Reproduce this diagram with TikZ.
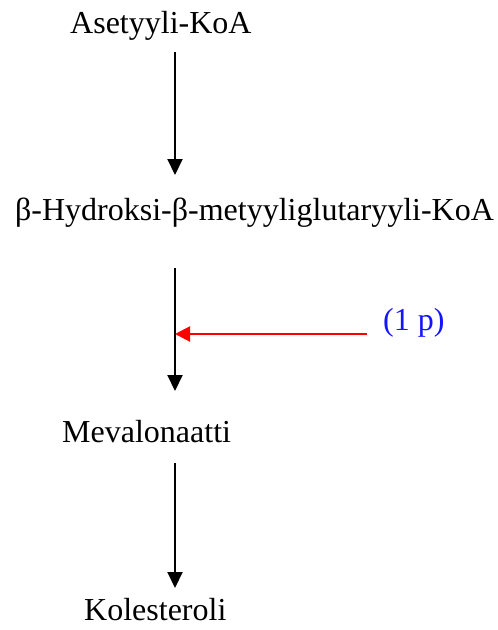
\documentclass[tikz,border=0pt]{standalone}
\usepackage{fontspec}
\setmainfont{Liberation Serif}
\usetikzlibrary{arrows.meta}
\definecolor{lblblue}{RGB}{20,20,255}
\begin{document}
\begin{tikzpicture}[x=1pt,y=-1pt,
  lbl/.style={inner sep=0pt,anchor=base west,font=\fontsize{32}{38}\selectfont},
  flow/.style={line width=2pt,-{Triangle[length=16pt,width=15pt]}},
  inhib/.style={line width=2pt,red,-{Triangle[length=15pt,width=15pt]}}]
\useasboundingbox (0,0) rectangle (498,630);
\node[lbl] (ace) at (70,33) {Asetyyli-KoA};
\node[lbl] (hmg) at (15,220) {β-Hydroksi-β-metyyliglutaryyli-KoA};
\node[lbl] (mev) at (62,442) {Mevalonaatti};
\node[lbl] (kol) at (84,620) {Kolesteroli};
\node[lbl,text=lblblue] (p) at (383,330) {(1 p)};
\coordinate (a1s) at (175,52);
\coordinate (a1e) at (175,175);
\coordinate (a2s) at (175,268);
\coordinate (a2e) at (175,391);
\coordinate (a3s) at (175,463);
\coordinate (a3e) at (175,588);
\coordinate (rs) at (367,334);
\coordinate (re) at (175,334);
\draw[flow] (a1s) -- (a1e);
\draw[flow] (a2s) -- (a2e);
\draw[flow] (a3s) -- (a3e);
\draw[inhib] (rs) -- (re);
\end{tikzpicture}
\end{document}
